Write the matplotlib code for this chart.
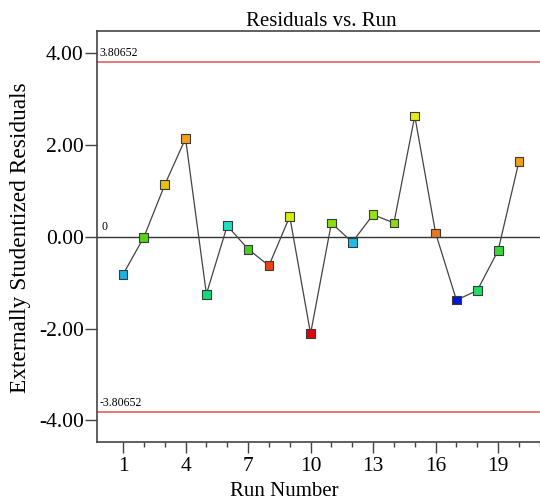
import numpy as np
import matplotlib.pyplot as plt
from matplotlib.ticker import FixedLocator, FormatStrFormatter

# residuals (runs 1..20)
runs = np.arange(1, 21)
resid = [-0.82, -0.01, 1.13, 2.14, -1.25, 0.24, -0.27, -0.63, 0.44, -2.11,
         0.30, -0.12, 0.48, 0.30, 2.63, 0.08, -1.38, -1.17, -0.30, 1.64]
colors = ['#1ab4e4', '#58d414', '#e8c010', '#f0a020', '#10dc78', '#20e0c0',
          '#48d020', '#ee4010', '#d8ec10', '#e00010', '#88e010', '#20bce8',
          '#98e010', '#88dc10', '#e4ec10', '#e87818', '#0018d0', '#20e060',
          '#38d838', '#f0a018']
limit = 3.80652

plt.rcParams['font.family'] = ['Liberation Serif', 'DejaVu Serif']

fig = plt.figure(figsize=(5.4, 5.0), dpi=100)
ax = fig.add_axes([97 / 540, 58 / 500, 448 / 540, 411 / 500])

ax.axhline(limit, color='#e46c6c', lw=1.3, zorder=1)
ax.axhline(-limit, color='#e46c6c', lw=1.3, zorder=1)
ax.axhline(0, color='#333333', lw=1.0, zorder=1)
ax.text(-0.12, limit + 0.12, '%.5f' % limit, fontsize=8.5, va='baseline', ha='left')
ax.text(-0.12, -limit + 0.12, '%.5f' % -limit, fontsize=8.5, va='baseline', ha='left')
ax.text(-0.05, 0.14, '0', fontsize=8.5, va='baseline', ha='left')

ax.plot(runs, resid, color='#444444', lw=0.9, zorder=2)
ax.scatter(runs, resid, marker='s', s=40, c=colors, edgecolors='#3a3a3a',
           linewidths=0.8, zorder=3)

ax.set_xlim(-0.25, 21.25)
ax.set_ylim(-4.47, 4.48)
ax.xaxis.set_major_locator(FixedLocator([1, 4, 7, 10, 13, 16, 19]))
ax.xaxis.set_minor_locator(FixedLocator(list(range(1, 22))))
ax.yaxis.set_major_locator(FixedLocator([-4, -2, 0, 2, 4]))
ax.yaxis.set_major_formatter(FormatStrFormatter('%.2f'))
ax.tick_params(axis='both', which='major', length=8.5, width=1.0,
               color='#444444', labelsize=15.5, direction='out')
ax.tick_params(axis='x', which='minor', length=3.8, width=1.0, color='#444444')
ax.tick_params(axis='y', pad=1)
ax.tick_params(axis='x', which='major', length=8, pad=3)

for side in ['left', 'bottom', 'top']:
    ax.spines[side].set_color('#444444')
    ax.spines[side].set_linewidth(1.2)
ax.spines['right'].set_visible(False)

ax.set_title('Residuals vs. Run', fontsize=15, pad=3)
ax.set_xlabel('Run Number', fontsize=15)
ax.xaxis.set_label_coords((284 - 97) / 448, -40 / 411)
ax.set_ylabel('Externally Studentized Residuals', fontsize=16.8)
ax.yaxis.set_label_coords(-66 / 448, (442 - 238) / 411)

plt.savefig('out.png', dpi=100)
